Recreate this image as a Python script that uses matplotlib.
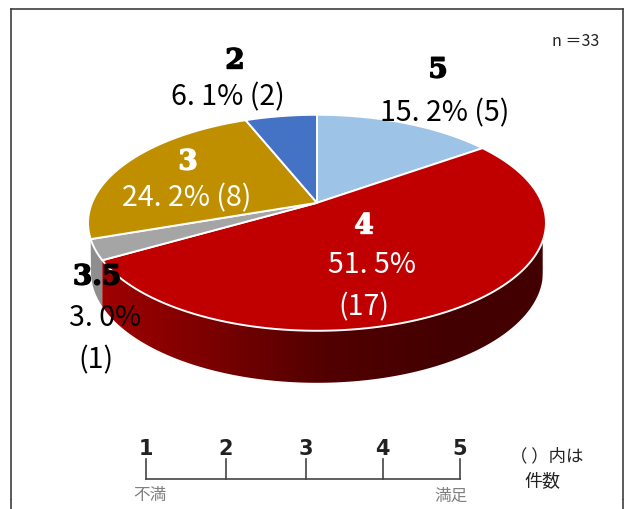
import numpy as np
import matplotlib
matplotlib.use("Agg")
import matplotlib.pyplot as plt
import matplotlib.patheffects as pe
from matplotlib.patches import Polygon

# slices, clockwise from the top
scores = ["5", "4", "3.5", "3", "2"]
counts = [5, 17, 1, 8, 2]
colors = ["#9DC3E6", "#C00000", "#A5A5A5", "#BF8F00", "#4472C4"]
pct_labels = ["15. 2%", "51. 5%", "3. 0%", "24. 2%", "6. 1%"]
n_total = 33
scale_ticks = [1, 2, 3, 4, 5]
scale_x = [146, 226, 306, 382.5, 459.5]

JP_FONT = ["Noto Sans CJK JP", "DejaVu Sans"]

# pie geometry in pixels, the tilt is a perspective view of a circle
CX, CY = 317, 203.8
A, B, K = 225, 104.3, 0.185
BOT_CY, BOT_RX, BOT_RY = 272.8, 226, 111


def rim(theta_deg):
    t = np.radians(theta_deg)
    u, v = np.sin(t), np.cos(t)
    den = 1 + K * v
    return CX + A * u / den, CY - B * v / den


def bottom_edge(x):
    d = np.clip((x - CX) / BOT_RX, -1, 1)
    return BOT_CY + BOT_RY * np.sqrt(1 - d ** 2)


def wall_points(t0, t1):
    # t0, t1 going along the front rim from left to right
    th = np.linspace(t0, t1, 200)
    xs, ys = rim(th)
    bx = np.clip(xs, CX - BOT_RX, CX + BOT_RX)
    by = bottom_edge(bx)
    return np.vstack([np.column_stack([xs, ys]), np.column_stack([bx, by])[::-1]])


fig = plt.figure(figsize=(6.29, 5.10), dpi=100)
ax = fig.add_axes([0, 0, 1, 1])
ax.axis("off")

# frame, open at the bottom
ax.plot([11, 11], [500, 9.5], color="#404040", lw=1.2, solid_capstyle="projecting")
ax.plot([11, 623], [9.5, 9.5], color="#404040", lw=1.2, solid_capstyle="projecting")
ax.plot([623, 623], [9.5, 500], color="#404040", lw=1.2, solid_capstyle="projecting")
ax.plot([11, 11], [500, 510], color="#404040", lw=1.2, solid_capstyle="butt")
ax.plot([623, 623], [500, 510], color="#404040", lw=1.2, solid_capstyle="butt")

# start angles from the counts
fracs = np.array(counts) / sum(counts)
edges = np.concatenate([[0], np.cumsum(fracs) * 360])

# side walls
t_red1 = edges[2]
t_gray1 = edges[3]
gray_wall = Polygon(wall_points(-(360 - t_gray1), -(360 - t_red1)), closed=True,
                    facecolor="#8E8E8E", edgecolor="none", zorder=1)
ax.add_patch(gray_wall)

red_wall = Polygon(wall_points(-(360 - t_red1), 110), closed=True,
                   facecolor="none", edgecolor="none", zorder=2)
ax.add_patch(red_wall)
grad = np.linspace(0, 1, 256).reshape(1, -1)
cmap = matplotlib.colors.LinearSegmentedColormap.from_list(
    "wall", ["#A00000", "#7A0000", "#520000", "#440000", "#420000"])
im = ax.imshow(grad, extent=[100, 550, 390, 220], aspect="auto", cmap=cmap, zorder=2)
im.set_clip_path(red_wall)

# top faces
for i in range(len(counts)):
    th = np.linspace(edges[i], edges[i + 1], 120)
    xs, ys = rim(th)
    pts = np.vstack([[CX, CY], np.column_stack([xs, ys])])
    ax.add_patch(Polygon(pts, closed=True, facecolor=colors[i], edgecolor="white",
                         lw=1.4, joinstyle="round", zorder=3))

ax.set_xlim(0, 629)
ax.set_ylim(510, 0)


def score_text(x, y, s, color="black"):
    ax.text(x, y, s, ha="center", va="center", color=color, fontsize=20,
            family="DejaVu Serif", fontweight="bold", zorder=5,
            path_effects=[pe.withStroke(linewidth=1.0, foreground=color)])


def value_text(x, y, s, color="black"):
    ax.text(x, y, s, ha="center", va="center", color=color, fontsize=20.5,
            family=JP_FONT, zorder=5)


score_text(438, 71, scores[0])
value_text(445, 113, f"{pct_labels[0]} ({counts[0]})")
score_text(364, 227, scores[1], "white")
value_text(372, 265, pct_labels[1], "white")
value_text(364, 307, f"({counts[1]})", "white")
score_text(97, 278, scores[2])
value_text(105, 318, pct_labels[2])
value_text(96, 360, f"({counts[2]})")
score_text(188, 163, scores[3], "white")
value_text(187, 198, f"{pct_labels[3]} ({counts[3]})", "white")
score_text(235, 62, scores[4])
value_text(228, 97, f"{pct_labels[4]} ({counts[4]})")

ax.text(599, 42, f"n ＝{n_total}", ha="right", va="center", fontsize=11.5,
        family=JP_FONT, color="#222222")

# satisfaction scale
ax.plot([scale_x[0], scale_x[-1]], [480, 480], color="#444444", lw=1.2)
for x, t in zip(scale_x, scale_ticks):
    ax.plot([x, x], [460, 480], color="#444444", lw=1.2)
    ax.text(x, 449, str(t), ha="center", va="center", fontsize=15,
            fontweight="bold", color="#222222")
ax.text(150, 496, "不満", ha="center", va="center", fontsize=12,
        family=JP_FONT, color="#808080")
ax.text(451, 496, "満足", ha="center", va="center", fontsize=12,
        family=JP_FONT, color="#808080")
ax.text(547, 456, "（ ）内は", ha="center", va="center", fontsize=12.5,
        family=JP_FONT, color="#222222")
ax.text(542, 482, "件数", ha="center", va="center", fontsize=13,
        family=JP_FONT, color="#222222")

fig.savefig("out.png", dpi=100)
